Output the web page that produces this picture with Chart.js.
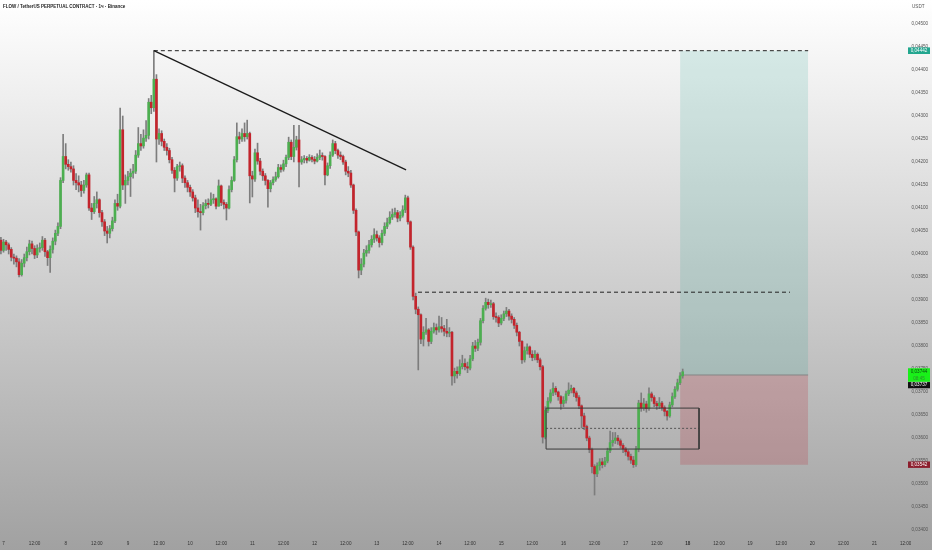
<!DOCTYPE html>
<html>
<head>
<meta charset="utf-8">
<script src="https://cdn.jsdelivr.net/npm/chart.js@4.4.1/dist/chart.umd.min.js"></script>
<style>
  html, body { margin: 0; padding: 0; }
  body {
    width: 932px; height: 550px; overflow: hidden; position: relative;
    background: linear-gradient(to bottom, #ffffff 0%, #a1a1a1 100%);
    font-family: "Liberation Sans", Arial, sans-serif;
  }
  #wrap { position: absolute; left: 0; top: 0; width: 932px; height: 550px; }
  #title { position: absolute; left: 3px; top: 3.5px; font-size: 4.5px; line-height: 5px; font-weight: bold; color: #1c1c1c; white-space: nowrap; }
  #unit { position: absolute; left: 912px; top: 3.5px; font-size: 4.6px; line-height: 5px; color: #555; }
</style>
</head>
<body>
<div id="wrap"><canvas id="chart" width="932" height="550"></canvas></div>
<div id="title">FLOW / TetherUS PERPETUAL CONTRACT · 1ч · Binance</div>
<div id="unit">USDT</div>
<script>
// hourly candles, hour 0 = day 7 00:00; open of each candle = close of previous one
const firstHour = -1;
const firstOpen = 0.04030;
const closes = [
  0.04008,0.04026,0.04020,0.04010,0.03993,0.03991,0.03983,0.03955,0.03980,0.03992,
  0.04005,0.04022,0.04012,0.03998,0.04012,0.04014,0.04030,0.04005,0.03992,0.04010,
  0.04028,0.04045,0.04060,0.04160,0.04212,0.04195,0.04190,0.04185,0.04160,0.04155,
  0.04150,0.04138,0.04150,0.04172,0.04100,0.04092,0.04110,0.04118,0.04090,0.04070,
  0.04050,0.04045,0.04055,0.04072,0.04110,0.04104,0.04270,0.04150,0.04160,0.04168,
  0.04176,0.04180,0.04215,0.04240,0.04235,0.04252,0.04258,0.04330,0.04318,0.04380,
  0.04250,0.04262,0.04245,0.04232,0.04225,0.04205,0.04182,0.04165,0.04190,0.04192,
  0.04165,0.04155,0.04145,0.04135,0.04122,0.04100,0.04092,0.04090,0.04105,0.04110,
  0.04108,0.04118,0.04120,0.04104,0.04148,0.04112,0.04108,0.04100,0.04140,0.04160,
  0.04205,0.04255,0.04250,0.04262,0.04255,0.04262,0.04170,0.04163,0.04220,0.04202,
  0.04180,0.04170,0.04160,0.04142,0.04155,0.04162,0.04168,0.04188,0.04184,0.04196,
  0.04210,0.04243,0.04212,0.04232,0.04248,0.04200,0.04205,0.04208,0.04204,0.04210,
  0.04206,0.04202,0.04210,0.04214,0.04212,0.04172,0.04192,0.04215,0.04240,0.04225,
  0.04215,0.04212,0.04200,0.04180,0.04176,0.04150,0.04095,0.04048,0.03965,0.03978,
  0.04002,0.04008,0.04020,0.04032,0.04042,0.04035,0.04025,0.04045,0.04060,0.04068,
  0.04080,0.04086,0.04090,0.04078,0.04084,0.04096,0.04122,0.04070,0.04015,0.03908,
  0.03880,0.03868,0.03815,0.03830,0.03835,0.03810,0.03832,0.03840,0.03835,0.03842,
  0.03838,0.03832,0.03828,0.03830,0.03735,0.03745,0.03740,0.03755,0.03762,0.03755,
  0.03752,0.03772,0.03800,0.03795,0.03808,0.03855,0.03882,0.03895,0.03890,0.03892,
  0.03864,0.03862,0.03850,0.03860,0.03870,0.03876,0.03865,0.03858,0.03845,0.03830,
  0.03810,0.03770,0.03790,0.03798,0.03782,0.03775,0.03782,0.03770,0.03755,0.03602,
  0.03660,0.03680,0.03698,0.03708,0.03700,0.03690,0.03675,0.03682,0.03696,0.03704,
  0.03708,0.03698,0.03688,0.03670,0.03648,0.03625,0.03600,0.03575,0.03538,0.03522,
  0.03540,0.03548,0.03542,0.03550,0.03572,0.03590,0.03595,0.03600,0.03594,0.03584,
  0.03576,0.03570,0.03560,0.03552,0.03542,0.03576,0.03676,0.03665,0.03674,0.03664,
  0.03696,0.03688,0.03675,0.03670,0.03676,0.03666,0.03658,0.03648,0.03672,0.03690,
  0.03706,0.03720,0.03735,0.03744
];
const highs = [
  0.04036,0.04032,0.04030,0.04024,0.04014,0.04000,0.03996,0.03990,0.03988,0.04000,
  0.04015,0.04030,0.04028,0.04018,0.04020,0.04024,0.04038,0.04034,0.04008,0.04018,
  0.04035,0.04052,0.04068,0.04166,0.04260,0.04240,0.04205,0.04200,0.04192,0.04175,
  0.04170,0.04158,0.04160,0.04176,0.04176,0.04110,0.04125,0.04135,0.04120,0.04095,
  0.04075,0.04060,0.04062,0.04080,0.04118,0.04130,0.04317,0.04300,0.04172,0.04180,
  0.04185,0.04195,0.04225,0.04275,0.04260,0.04270,0.04290,0.04338,0.04345,0.04442,
  0.04390,0.04272,0.04268,0.04250,0.04240,0.04230,0.04210,0.04188,0.04195,0.04200,
  0.04196,0.04170,0.04160,0.04150,0.04140,0.04128,0.04118,0.04108,0.04112,0.04118,
  0.04120,0.04133,0.04130,0.04122,0.04161,0.04150,0.04118,0.04112,0.04148,0.04168,
  0.04212,0.04285,0.04265,0.04272,0.04285,0.04291,0.04265,0.04180,0.04228,0.04241,
  0.04208,0.04185,0.04175,0.04162,0.04160,0.04168,0.04178,0.04195,0.04194,0.04204,
  0.04215,0.04254,0.04248,0.04280,0.04256,0.04280,0.04212,0.04214,0.04212,0.04216,
  0.04214,0.04212,0.04218,0.04226,0.04220,0.04214,0.04198,0.04222,0.04248,0.04245,
  0.04228,0.04222,0.04215,0.04204,0.04190,0.04182,0.04152,0.04098,0.04050,0.03990,
  0.04010,0.04018,0.04030,0.04040,0.04055,0.04050,0.04040,0.04052,0.04068,0.04078,
  0.04092,0.04098,0.04100,0.04095,0.04092,0.04105,0.04128,0.04126,0.04072,0.04018,
  0.03915,0.03885,0.03870,0.03842,0.03860,0.03838,0.03840,0.03850,0.03848,0.03865,
  0.03862,0.03845,0.03858,0.03840,0.03832,0.03752,0.03755,0.03770,0.03780,0.03772,
  0.03765,0.03780,0.03808,0.03812,0.03815,0.03860,0.03888,0.03904,0.03902,0.03900,
  0.03895,0.03872,0.03866,0.03868,0.03876,0.03884,0.03880,0.03870,0.03862,0.03850,
  0.03832,0.03812,0.03798,0.03805,0.03800,0.03790,0.03790,0.03785,0.03774,0.03758,
  0.03668,0.03688,0.03705,0.03720,0.03712,0.03702,0.03692,0.03690,0.03702,0.03720,
  0.03715,0.03710,0.03702,0.03692,0.03672,0.03654,0.03628,0.03604,0.03578,0.03542,
  0.03546,0.03555,0.03556,0.03558,0.03578,0.03615,0.03612,0.03612,0.03606,0.03598,
  0.03588,0.03580,0.03574,0.03565,0.03560,0.03582,0.03682,0.03698,0.03686,0.03680,
  0.03709,0.03700,0.03692,0.03680,0.03688,0.03680,0.03670,0.03660,0.03678,0.03698,
  0.03712,0.03728,0.03742,0.03750
];
const lows = [
  0.04000,0.04004,0.04008,0.04000,0.03985,0.03978,0.03972,0.03950,0.03952,0.03972,
  0.03985,0.03998,0.04000,0.03990,0.03992,0.04004,0.04008,0.03995,0.03975,0.03960,
  0.04002,0.04020,0.04040,0.04055,0.04155,0.04185,0.04182,0.04178,0.04150,0.04140,
  0.04135,0.04125,0.04132,0.04145,0.04095,0.04075,0.04088,0.04100,0.04080,0.04060,
  0.04040,0.04024,0.04035,0.04050,0.04068,0.04095,0.04100,0.04140,0.04110,0.04150,
  0.04125,0.04165,0.04175,0.04210,0.04225,0.04230,0.04245,0.04250,0.04305,0.04310,
  0.04200,0.04238,0.04235,0.04225,0.04215,0.04198,0.04175,0.04135,0.04160,0.04180,
  0.04155,0.04145,0.04135,0.04125,0.04115,0.04090,0.04080,0.04052,0.04085,0.04098,
  0.04100,0.04105,0.04110,0.04098,0.04104,0.04105,0.04098,0.04074,0.04098,0.04135,
  0.04158,0.04200,0.04240,0.04245,0.04245,0.04250,0.04111,0.04124,0.04158,0.04195,
  0.04172,0.04160,0.04150,0.04102,0.04135,0.04150,0.04158,0.04165,0.04178,0.04180,
  0.04190,0.04205,0.04205,0.04200,0.04226,0.04146,0.04195,0.04198,0.04198,0.04202,
  0.04200,0.04196,0.04200,0.04205,0.04204,0.04150,0.04170,0.04186,0.04212,0.04218,
  0.04208,0.04205,0.04195,0.04172,0.04168,0.04145,0.04088,0.04040,0.03948,0.03955,
  0.03972,0.03995,0.04002,0.04015,0.04025,0.04028,0.04015,0.04020,0.04040,0.04055,
  0.04065,0.04075,0.04080,0.04070,0.04072,0.04080,0.04090,0.04065,0.04010,0.03900,
  0.03870,0.03748,0.03805,0.03800,0.03825,0.03800,0.03805,0.03828,0.03825,0.03830,
  0.03830,0.03822,0.03820,0.03820,0.03715,0.03720,0.03730,0.03736,0.03750,0.03748,
  0.03742,0.03748,0.03768,0.03788,0.03790,0.03802,0.03850,0.03878,0.03882,0.03884,
  0.03858,0.03852,0.03842,0.03846,0.03855,0.03864,0.03856,0.03850,0.03838,0.03822,
  0.03800,0.03762,0.03765,0.03782,0.03775,0.03768,0.03770,0.03764,0.03748,0.03589,
  0.03598,0.03655,0.03676,0.03692,0.03694,0.03682,0.03662,0.03668,0.03676,0.03692,
  0.03698,0.03690,0.03680,0.03664,0.03622,0.03618,0.03594,0.03568,0.03524,0.03476,
  0.03516,0.03530,0.03535,0.03538,0.03546,0.03568,0.03582,0.03588,0.03586,0.03578,
  0.03568,0.03562,0.03552,0.03545,0.03536,0.03538,0.03570,0.03658,0.03660,0.03656,
  0.03660,0.03680,0.03668,0.03662,0.03664,0.03660,0.03648,0.03639,0.03645,0.03668,
  0.03686,0.03702,0.03716,0.03730
];

// axis ticks
const xTickHours = [0,12,24,36,48,60,72,84,96,108,120,132,144,156,168,180,192,204,216,228,240,252,264,276,288,300,312,324,336];
const xTickLabels = ['7','12:00','8','12:00','9','12:00','10','12:00','11','12:00','12','12:00','13','12:00','14','12:00',
                     '15','12:00','16','12:00','17','12:00','18','12:00','19','12:00','20','12:00','21'];
const boldTickHour = 264;
const cutTickHour = 348;          // half-hidden label under the price scale
const cutTickLabel = '12:00';
const yTickValues = [0.0340,0.0345,0.0350,0.0355,0.0360,0.0365,0.0370,0.0375,0.0380,0.0385,0.0390,
                     0.0395,0.0400,0.0405,0.0410,0.0415,0.0420,0.0425,0.0430,0.0435,0.0440,0.0445,0.0450];

// drawings (hour, price)
const trendLine = [[58, 0.04442], [155.3, 0.04183]];
const highLevel = [[58, 0.04442], [310.4, 0.04442]];
const midLevel = [[159.9, 0.03917], [303.4, 0.03917]];
const boxHours = [209.3, 268.3];
const boxPrices = [0.03665, 0.03576];
const boxMidPrice = 0.03621;
const positionHours = [261, 310.4];
const targetPrice = 0.04442;
const entryPrice = 0.03737;
const stopPrice = 0.03542;
const lastPrice = 0.03744;
const countdown = '08:45';

const el = (id) => document.getElementById(id);
const fmt = (v) => v.toFixed(5).replace('.', ',');
const pts = (arr) => arr.map(([x, y]) => ({ x, y }));

const hours = closes.map((c, i) => firstHour + i);
const opens = closes.map((c, i) => i === 0 ? firstOpen : closes[i - 1]);
const bodyColors = closes.map((c, i) => c >= opens[i] ? '#4caf50' : '#c3242c');

const FONT = '"Liberation Sans", Arial, sans-serif';

const badges = {
  id: 'badges',
  afterDraw(chart) {
    const { ctx } = chart;
    const ys = chart.scales.y, xs = chart.scales.x;
    const x0 = ys.left + 6, w = 22;
    ctx.save();
    ctx.font = `4.6px ${FONT}`;
    ctx.textAlign = 'center';
    ctx.textBaseline = 'middle';

    // last time label, cut by the price scale
    ctx.save();
    ctx.beginPath();
    ctx.rect(0, xs.top, ys.left + 9, xs.height);
    ctx.clip();
    ctx.fillStyle = '#333';
    ctx.fillText(cutTickLabel, xs.getPixelForValue(cutTickHour), xs.top + 6.5);
    ctx.restore();

    const badge = (top, h, bg) => { ctx.fillStyle = bg; ctx.fillRect(x0, top, w, h); };

    let py = ys.getPixelForValue(targetPrice);
    badge(py - 3.3, 6.6, '#22a68f');
    ctx.fillStyle = '#fff'; ctx.fillText(fmt(targetPrice), x0 + w / 2, py);

    py = ys.getPixelForValue(lastPrice);
    badge(py - 3.5, 13.5, '#19f019');
    ctx.fillStyle = '#0b4d0b'; ctx.fillText(fmt(lastPrice), x0 + w / 2, py);
    ctx.fillStyle = '#2f8f2f'; ctx.fillText(countdown, x0 + w / 2, py + 6.5);
    const blackTop = py + 10.3;
    badge(blackTop, 6.2, '#111');
    ctx.fillStyle = '#fff'; ctx.fillText(fmt(entryPrice), x0 + w / 2, blackTop + 3.1);

    py = ys.getPixelForValue(stopPrice);
    badge(py - 3.2, 6.4, '#8c1d2c');
    ctx.fillStyle = '#fff'; ctx.fillText(fmt(stopPrice), x0 + w / 2, py);
    ctx.restore();
  }
};

const lineDs = (data, color, width, dash, order) => ({
  type: 'line', data, borderColor: color, borderWidth: width, borderDash: dash || [],
  pointRadius: 0, fill: false, tension: 0, order
});

const boxPath = [
  [boxHours[0], boxPrices[0]], [boxHours[1], boxPrices[0]], [boxHours[1], boxPrices[1]],
  [boxHours[0], boxPrices[1]], [boxHours[0], boxPrices[0]]
];

new Chart(el('chart').getContext('2d'), {
  type: 'bar',
  data: {
    datasets: [
      { type: 'line', data: positionHours.map(x => ({ x, y: targetPrice })), borderColor: 'transparent',
        pointRadius: 0, fill: '+1', backgroundColor: 'rgba(30,160,140,0.15)', order: 20 },
      lineDs(positionHours.map(x => ({ x, y: entryPrice })), '#858585', 1, null, 19),
      { type: 'line', data: positionHours.map(x => ({ x, y: stopPrice })), borderColor: 'transparent',
        pointRadius: 0, fill: '-1', backgroundColor: 'rgba(185,45,60,0.22)', order: 20 },
      { type: 'bar', data: hours.map((h, i) => ({ x: h, y: [lows[i], highs[i]] })),
        backgroundColor: '#7d7d7d', barThickness: 1, grouped: false, order: 8 },
      { type: 'bar', data: hours.map((h, i) => ({ x: h, y: [opens[i], closes[i]] })),
        backgroundColor: bodyColors, barThickness: 2, minBarLength: 1, grouped: false, order: 7 },
      lineDs(pts(trendLine), '#1b1b1b', 1.3, null, 1),
      lineDs(pts(highLevel), '#222', 1, [4, 3], 1),
      lineDs(pts(midLevel), '#222', 1, [4, 3], 1),
      lineDs(pts(boxPath), '#3a3a3a', 1, null, 2),
      lineDs(boxHours.map(x => ({ x, y: boxMidPrice })), '#555', 1, [2, 2], 2)
    ]
  },
  options: {
    responsive: false,
    animation: false,
    events: [],
    layout: { padding: 0, autoPadding: false },
    plugins: { legend: { display: false }, tooltip: { enabled: false } },
    scales: {
      x: {
        type: 'linear', offset: false, min: -1.35, max: 346.6,
        grid: { display: false, drawTicks: false }, border: { display: false },
        afterBuildTicks: (s) => { s.ticks = xTickHours.map(v => ({ value: v })); },
        afterFit: (s) => { s.height = 13; s.paddingLeft = 0; s.paddingRight = 0; },
        ticks: {
          autoSkip: false, maxRotation: 0, padding: 4, color: '#333',
          font: (c) => ({ family: FONT, size: 4.6, weight: c.tick && c.tick.value === boldTickHour ? 'bold' : 'normal' }),
          callback: (v, i) => xTickLabels[i]
        }
      },
      y: {
        type: 'linear', position: 'right', min: 0.033848, max: 0.045522,
        grid: { display: false, drawTicks: false }, border: { display: false },
        afterBuildTicks: (s) => { s.ticks = yTickValues.map(v => ({ value: v })); },
        afterFit: (s) => { s.width = 30; s.paddingTop = 0; s.paddingBottom = 0; },
        ticks: {
          padding: 9.5, color: '#555', font: { family: FONT, size: 4.6 },
          callback: (v) => fmt(v)
        }
      }
    }
  },
  plugins: [badges]
});
</script>
</body>
</html>
